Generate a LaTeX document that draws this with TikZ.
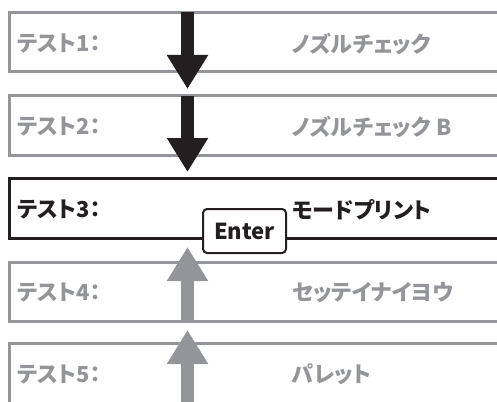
\documentclass[tikz,border=0pt]{standalone}
\usepackage{fontspec}
\newfontfamily\jpfont{Noto Sans CJK JP}[RawFeature=+palt]
\usetikzlibrary{positioning,arrows.meta}
\definecolor{menugray}{RGB}{147,149,152}
\definecolor{menuink}{RGB}{35,31,32}
\tikzset{
  menu row/.style={draw=#1,line width=3pt,minimum width=520pt,minimum height=59.5pt,
    inner sep=0pt,outer sep=0pt,anchor=north west},
  menu text/.style={text=#1,font=\jpfont\bfseries\fontsize{22}{22}\selectfont,
    inner sep=0pt,anchor=west},
  menu down/.style={-{Triangle[length=34pt,width=39pt]},line width=13pt,menuink},
  menu up/.style={-{Triangle[length=34pt,width=39pt]},line width=13pt,menugray},
  menu key/.style={draw=menuink,line width=2pt,fill=white,rounded corners=4pt,
    minimum width=83pt,minimum height=44pt,inner sep=0pt,
    font=\jpfont\bfseries\fontsize{22}{22}\selectfont,text=menuink}
}
\newcommand{\menurow}[5]{%
  \node[menu row=#3] (#1) at (9,#2) {};
  \node[menu text=#3] (#1-label) at (17,#2+31) {#4};
  \node[menu text=#3] (#1-value) at (292,#2+31) {#5};
}
\begin{document}
\begin{tikzpicture}[x=1pt,y=-1pt]
  \useasboundingbox (0,0) rectangle (497,401);
  \clip (0,0) rectangle (497,401);
  % Menu rows.
  \menurow{test1}{12.5}{menugray}{テスト1：}{ノズルチェック}
  \menurow{test2}{96}{menugray}{テスト2：}{ノズルチェック B}
  \menurow{test3}{178.5}{menuink}{テスト3：}{モードプリント}
  \menurow{test4}{262}{menugray}{テスト4：}{セッテイナイヨウ}
  \menurow{test5}{343.5}{menugray}{テスト5：}{パレット}

  % Scroll arrows.
  \coordinate (axis) at (187.5,0);
  \coordinate (tip1) at (187.5,89);
  \coordinate (tip2) at (187.5,172);
  \coordinate (tip3) at (187.5,247);
  \coordinate (tip4) at (187.5,330);
  \coordinate (foot) at (187.5,410);
  \draw[menu down] (test1.north -| axis) -- (tip1);
  \draw[menu down] (test2.north -| axis) -- (tip2);
  \draw[menu up] (test4.south -| axis) -- (tip3);
  \draw[menu up] (foot) -- (tip4);

  % Enter key.
  \node[menu key] (enter) at (244.5,231) {Enter};
\end{tikzpicture}
\end{document}
